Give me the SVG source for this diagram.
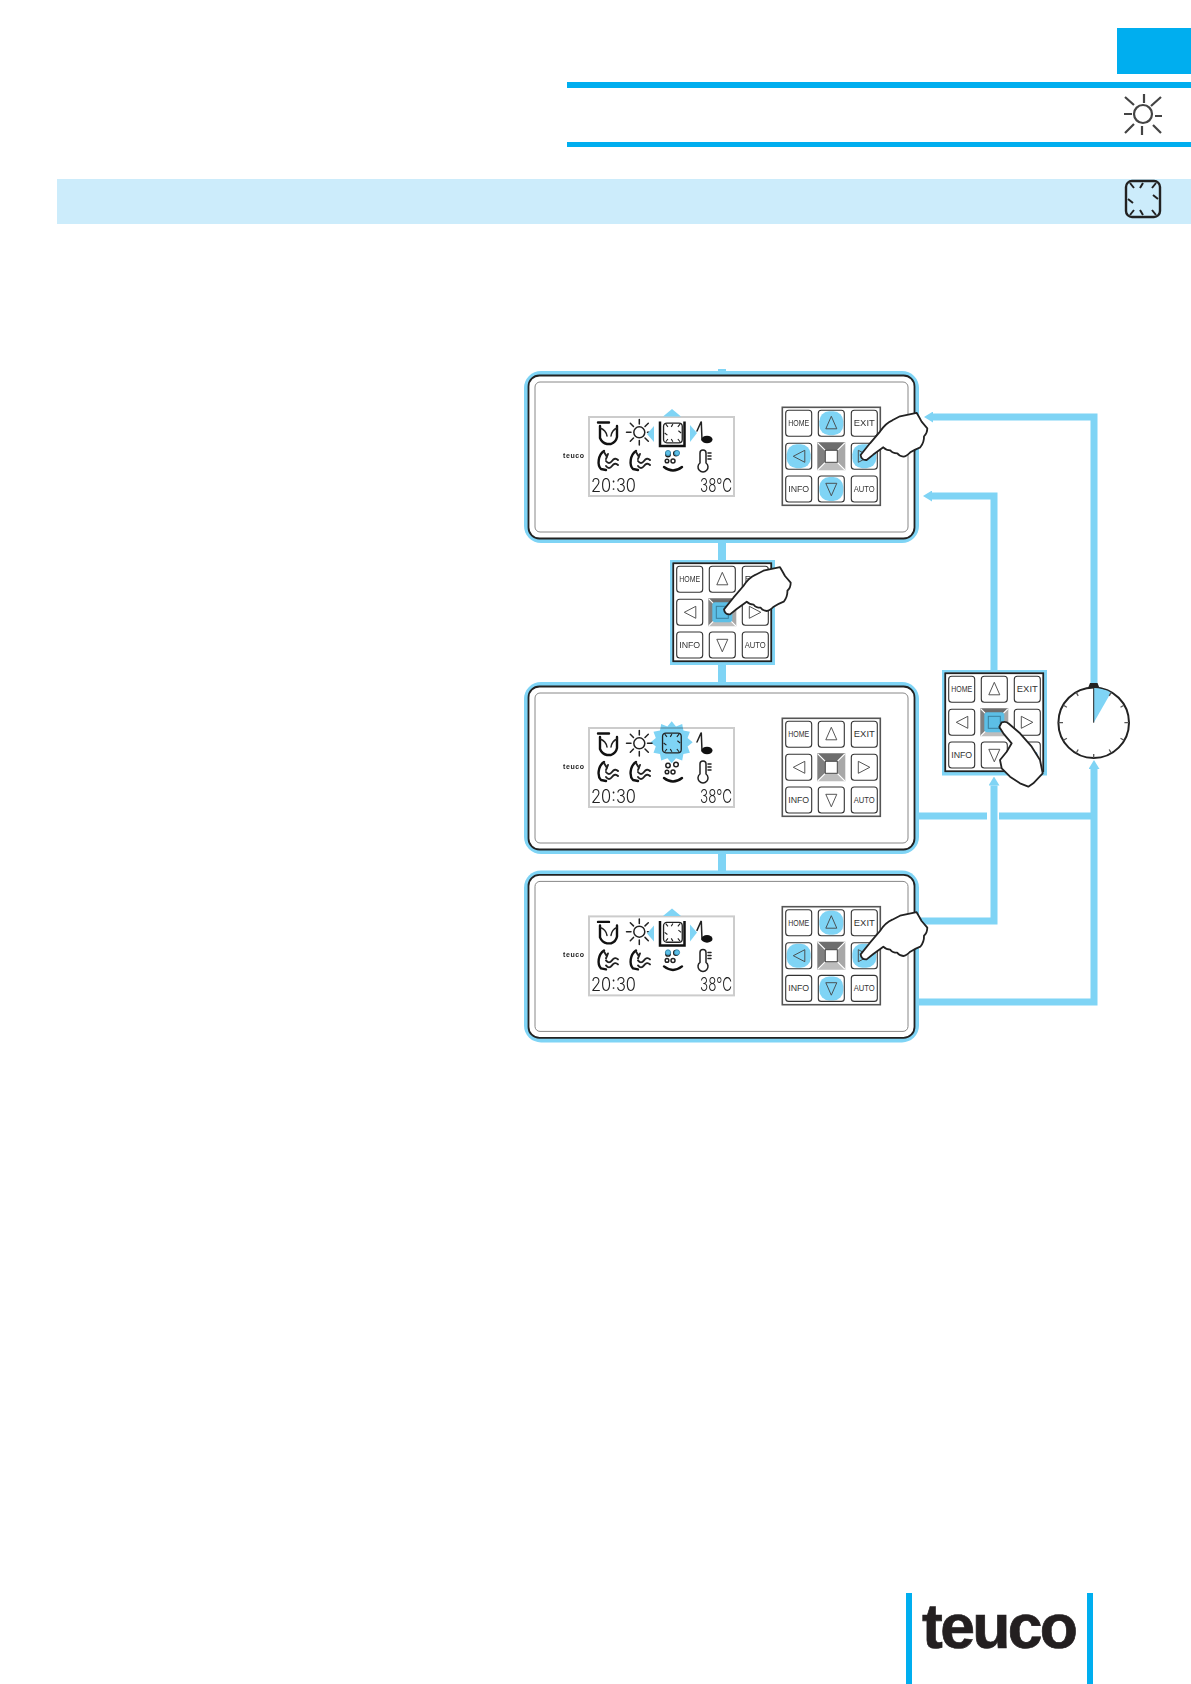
<svg xmlns="http://www.w3.org/2000/svg" xmlns:xlink="http://www.w3.org/1999/xlink" width="1191" height="1684" viewBox="0 0 1191 1684">
<style>
.sans{font-family:"Liberation Sans",Arial,sans-serif}
.k{fill:#fff;fill-opacity:0;stroke:#333;stroke-width:1.1}
.kt{font-size:8.5px;fill:#333;text-anchor:middle;font-family:"Liberation Sans",Arial,sans-serif}
.tri{fill:none;stroke:#444;stroke-width:.9}
.hl{fill:#7fd4f5}
.hand{fill:#fff;stroke:#222;stroke-width:1.8;stroke-linejoin:round}
.ic{fill:none;stroke:#111;stroke-width:2.4;stroke-linecap:round;stroke-linejoin:round}
.ict{fill:none;stroke:#222;stroke-width:1.5;stroke-linecap:round;stroke-linejoin:round}
.lcd{font-family:Inter,"Liberation Sans",sans-serif;font-weight:300;font-size:18px;fill:#222}
.conn{fill:none;stroke:#7fd4f5;stroke-width:7}
</style>
<defs>
<marker id="head" markerUnits="userSpaceOnUse" markerWidth="9" markerHeight="11" refX="0" refY="5.5" orient="auto"><path d="M0 0L9 5.5L0 11Z" fill="#7fd4f5"/></marker>
<g id="lamp"><rect x="1" y="1" width="34" height="36" rx="6" fill="none" stroke="#222" stroke-width="2.400"/><path d="M5 3L9 8M18 3L15 8M31 3L27 8M3 19L8 23M33 19L28 15M5 35L9 30M18 35L15 30M31 35L27 30" fill="none" stroke="#222" stroke-width="2"/></g>
<g id="kpbg"><rect x="0" y="0" width="98" height="98" fill="#fff" stroke="#555" stroke-width="1.6"/></g>
<g id="kpfg">
<rect class="k" x="3.400" y="3" width="26" height="26" rx="3"/><rect class="k" x="36" y="3" width="26" height="26" rx="3"/><rect class="k" x="69" y="3" width="26" height="26" rx="3"/>
<rect class="k" x="3.400" y="36" width="26" height="26" rx="3"/><rect class="k" x="69" y="36" width="26" height="26" rx="3"/>
<rect class="k" x="3.400" y="68.700" width="26" height="26" rx="3"/><rect class="k" x="36" y="68.700" width="26" height="26" rx="3"/><rect class="k" x="69" y="68.700" width="26" height="26" rx="3"/>
<text class="kt" x="16.400" y="19" textLength="21" lengthAdjust="spacingAndGlyphs">HOME</text>
<text class="kt" x="82" y="19" textLength="21" lengthAdjust="spacingAndGlyphs">EXIT</text>
<text class="kt" x="16.400" y="84.500" textLength="21" lengthAdjust="spacingAndGlyphs">INFO</text>
<text class="kt" x="82" y="84.500" textLength="21" lengthAdjust="spacingAndGlyphs">AUTO</text>
<path class="tri" d="M49 9L43.500 21.500H54.500ZM11 49L22.500 43V55ZM87.500 49L76 43V55ZM49 88.500L43.500 76H54.500Z"/>
<polygon points="35,35 63,35 55,43 43,43" fill="#6d6d6d"/><polygon points="35,35 43,43 43,55 35,63" fill="#808080"/><polygon points="63,35 55,43 55,55 63,63" fill="#a8a8a8"/><polygon points="35,63 43,55 55,55 63,63" fill="#bdbdbd"/>
<path d="M35.500 35.500L43 43M62.500 35.500L55 43M35.500 62.500L43 55M62.500 62.500L55 55" stroke="#fff" stroke-width="1.200"/>
<rect x="43" y="43" width="12" height="12" fill="#fff" stroke="#444" stroke-width="1"/>
</g>
<g id="arrowhl"><rect class="hl" x="37" y="4" width="24" height="24" rx="10"/><rect class="hl" x="4.400" y="37" width="24" height="24" rx="10"/><rect class="hl" x="70" y="37" width="24" height="24" rx="10"/><rect class="hl" x="37" y="69.700" width="24" height="24" rx="10"/></g>
<g id="centrehl"><rect x="39" y="39" width="20" height="20" rx="3" fill="#5cbfe6"/><rect x="43" y="43" width="12" height="12" fill="none" stroke="#3a7f9c" stroke-width="1"/></g>
<path id="hand1" class="hand" d="M-2.700 -2.300L6.700 -14L16.700 -25.700Q22 -34 29 -37L36.700 -41L53.300 -44.500Q56 -40 58.300 -35.700L64 -29Q64 -24 60.700 -21Q61 -15 57 -10Q52 -8 47 -5Q43 -1 40 -.7Q36 -1 34 -4Q29 -4 27 -7Q23 -7 20 -10L10 -2.700L3.300 2.700Q-2 3 -2.700 -2.300Z"/>
<g id="bezel"><rect x="524" y="371" width="395" height="172" rx="17" fill="#7fd4f5"/><rect x="528.500" y="375.500" width="386" height="163" rx="11" fill="#fff" stroke="#222" stroke-width="1.800"/><rect x="535" y="382" width="373" height="150" rx="5" fill="none" stroke="#888" stroke-width="1"/></g>
<g id="screen">
<text class="sans" x="563" y="458" font-size="7" font-weight="700" fill="#222" textLength="21">teuco</text>
<rect x="589" y="417" width="145" height="79" fill="#fff" stroke="#ccc" stroke-width="2"/>
<path class="ic" d="M598 422.500H609M600 426V438Q602 443 607 444H611Q616 442 617 437V426"/><path class="ict" d="M600 428Q606 430 607 436M617 428Q612 430 611 436"/>
<g class="ict"><circle cx="639.300" cy="432.300" r="5.500"/><path d="M639.300 419.500V424M639.300 440.500V445M626.500 432.300H631M647.500 432.300H652M630.300 423.300L633.500 426.500M648.300 423.300L645 426.500M630.300 441.300L633.500 438M648.300 441.300L645 438"/></g>
<path class="ict" d="M701.300 422L702 440M701 422L697 431"/><ellipse cx="707" cy="439.500" rx="5.500" ry="3.800" fill="#111"/>
<g id="seat"><path class="ic" d="M604 451C598 455 597 465 601 469L606 470"/><path class="ict" style="stroke-width:1.900" d="M606 461Q609 465 612 461T618 460M606 466Q609 470 612 466T618 465M604 452L607 457M608 454L606 459"/></g>
<use href="#seat" x="32"/>
<g class="ict"><circle cx="668" cy="454.500" r="2.200"/><circle cx="676" cy="453.500" r="2.300"/><circle cx="667" cy="461" r="1.800"/><circle cx="673" cy="461" r="2"/></g><path class="ic" d="M664 467Q673 474 682 467"/>
<g class="ict"><path d="M700 463V453Q700 450 703 450T706 453V463A5 5 0 1 1 700 463ZM708 453H711M708 456H711M708 459H711"/></g>
<text class="lcd" x="591" y="491.700" textLength="45" lengthAdjust="spacingAndGlyphs">20:30</text>
<text class="lcd" x="700" y="491.700" textLength="32" lengthAdjust="spacingAndGlyphs">38°C</text>
</g>
<g id="select">
<polygon points="672,409 681,416.500 663,416.500" fill="#7fd4f5"/><polygon points="647,434 654,426 654,442" fill="#7fd4f5"/><polygon points="690,425 697,433 690,442" fill="#7fd4f5"/>
<rect x="659.500" y="421" width="25" height="25.500" fill="#fff"/><path d="M660 421.500V446H684.500V421.500" fill="none" stroke="#111" stroke-width="2.500"/>
<use href="#lamp" transform="translate(663 422.500) scale(.55)"/>
<circle cx="668" cy="453" r="2.600" fill="#5cbfe6" stroke="#2b7fa5" stroke-width=".8"/><circle cx="677" cy="453" r="2.600" fill="#5cbfe6" stroke="#2b7fa5" stroke-width=".8"/>
</g>
</defs>
<rect width="1191" height="1684" fill="#fff"/>
<g id="page-header">
<rect x="1117" y="28" width="74" height="46" fill="#00aeef"/>
<rect x="567" y="82" width="624" height="6" fill="#00aeef"/>
<rect x="567" y="142" width="624" height="5" fill="#00aeef"/>
<rect x="57" y="179" width="1134" height="45" fill="#ccecfb"/>
<g fill="none" stroke="#444" stroke-width="2.200"><circle cx="1143" cy="114" r="9"/><path d="M1144 94V103M1142 126V135M1124 114H1132M1155 116H1162M1125 97L1134 105M1161 97L1151 106M1125 133L1134 124M1161 133L1153 125"/></g>
<use href="#lamp" x="1125" y="180"/>
</g>
<g id="connectors">
<path class="conn" style="stroke-width:8" d="M722 369V372M722 542V560M722 665V684M722 852V872"/>
<path class="conn" marker-end="url(#head)" d="M1094 690V417H933"/>
<path class="conn" marker-end="url(#head)" d="M994 670V496H932"/>
<path class="conn" d="M918 816H987M999 816H1094"/>
<path class="conn" marker-end="url(#head)" d="M918 921H994V785.500"/>
<path class="conn" marker-end="url(#head)" d="M918 1002H1094V769"/>
</g>
<g id="panel-1"><use href="#bezel"/><use href="#screen"/><use href="#select"/>
<g transform="translate(782.300 407.300)"><use href="#kpbg"/><use href="#arrowhl"/><use href="#kpfg"/></g>
<use href="#hand1" x="863.300" y="457.300"/></g>
<g id="keypad-press"><rect x="670" y="560" width="105" height="105" fill="#7fd4f5"/>
<g transform="translate(673.300 563.300)"><use href="#kpbg"/><rect width="98" height="98" fill="none" stroke="#222" stroke-width="1.500"/><use href="#kpfg"/><use href="#centrehl"/></g>
<use href="#hand1" x="726.700" y="611.700"/></g>
<g id="panel-2"><g transform="translate(0 311)"><use href="#bezel"/>
<polygon transform="translate(671.700 431.300)" points="21,0 15.900,4.300 18.200,10.500 11.700,11.700 10.500,18.200 4.300,15.900 0,21 -4.300,15.900 -10.500,18.200 -11.700,11.700 -18.200,10.500 -15.900,4.300 -21,0 -15.900,-4.300 -18.200,-10.500 -11.700,-11.700 -10.500,-18.200 -4.300,-15.900 0,-21 4.300,-15.900 10.500,-18.200 11.700,-11.700 18.200,-10.500 15.900,-4.300" fill="#7fd4f5"/>
<use href="#screen" style="mix-blend-mode:multiply"/>
<use href="#lamp" transform="translate(662 421.500) scale(.55)"/>
<g transform="translate(782.300 407.300)"><use href="#kpbg"/><use href="#kpfg"/></g></g></g>
<g id="panel-3"><g transform="translate(0 499.400)"><use href="#bezel"/><use href="#screen"/><use href="#select"/>
<g transform="translate(782.300 407.300)"><use href="#kpbg"/><use href="#arrowhl"/><use href="#kpfg"/></g>
<use href="#hand1" x="863.300" y="457.300"/></g></g>
<g id="keypad-hold"><rect x="942" y="670" width="105" height="105.500" fill="#7fd4f5"/>
<g transform="translate(945.300 673.300)"><use href="#kpbg"/><rect width="98" height="98" fill="none" stroke="#222" stroke-width="1.500"/><use href="#kpfg"/><use href="#centrehl"/></g>
<path class="hand" d="M999.300 727L1001.700 722.300Q1006 721 1008.300 723.300L1020 733.300L1031.700 746.700L1040 760L1042.700 773.300L1033.300 783.300L1028.300 786.700L1020 783.300L1010 776.700L1001.700 768.300L1000 760L1006.700 751.700L1011.700 743.300L1003.300 733.300Z"/></g>
<g id="clock">
<circle cx="1093.700" cy="722.700" r="35.300" fill="#fff" stroke="#222" stroke-width="2"/>
<path d="M1093.700 722.700V688A35 35 0 0 1 1111 692.500Z" fill="#7fd4f5"/>
<path d="M1093.700 722.700V688" stroke="#222" stroke-width="1"/>
<path d="M1088 688L1090 683H1097.500L1099.500 688Z" fill="#222"/>
<g stroke="#555" stroke-width="1.300"><path d="M1093.700 754V758M1058.400 722.700H1063M1124.400 722.700H1129M1111.200 692.400L1109.200 695.900M1124 705.200L1120.500 707.200M1124 740.200L1120.500 738.200M1111.200 753L1109.200 749.500M1076.200 753L1078.200 749.500M1063.400 740.200L1066.900 738.200M1063.400 705.200L1066.900 707.200M1076.200 692.400L1078.200 695.900"/></g>
</g>
<g id="logo">
<rect x="906" y="1593" width="6" height="91" fill="#00aeef"/><rect x="1087" y="1593" width="6" height="91" fill="#00aeef"/>
<text class="sans" x="922" y="1648" font-size="62.500" font-weight="700" fill="#231f20" stroke="#231f20" stroke-width=".7" textLength="156" lengthAdjust="spacing">teuco</text>
</g>
</svg>
